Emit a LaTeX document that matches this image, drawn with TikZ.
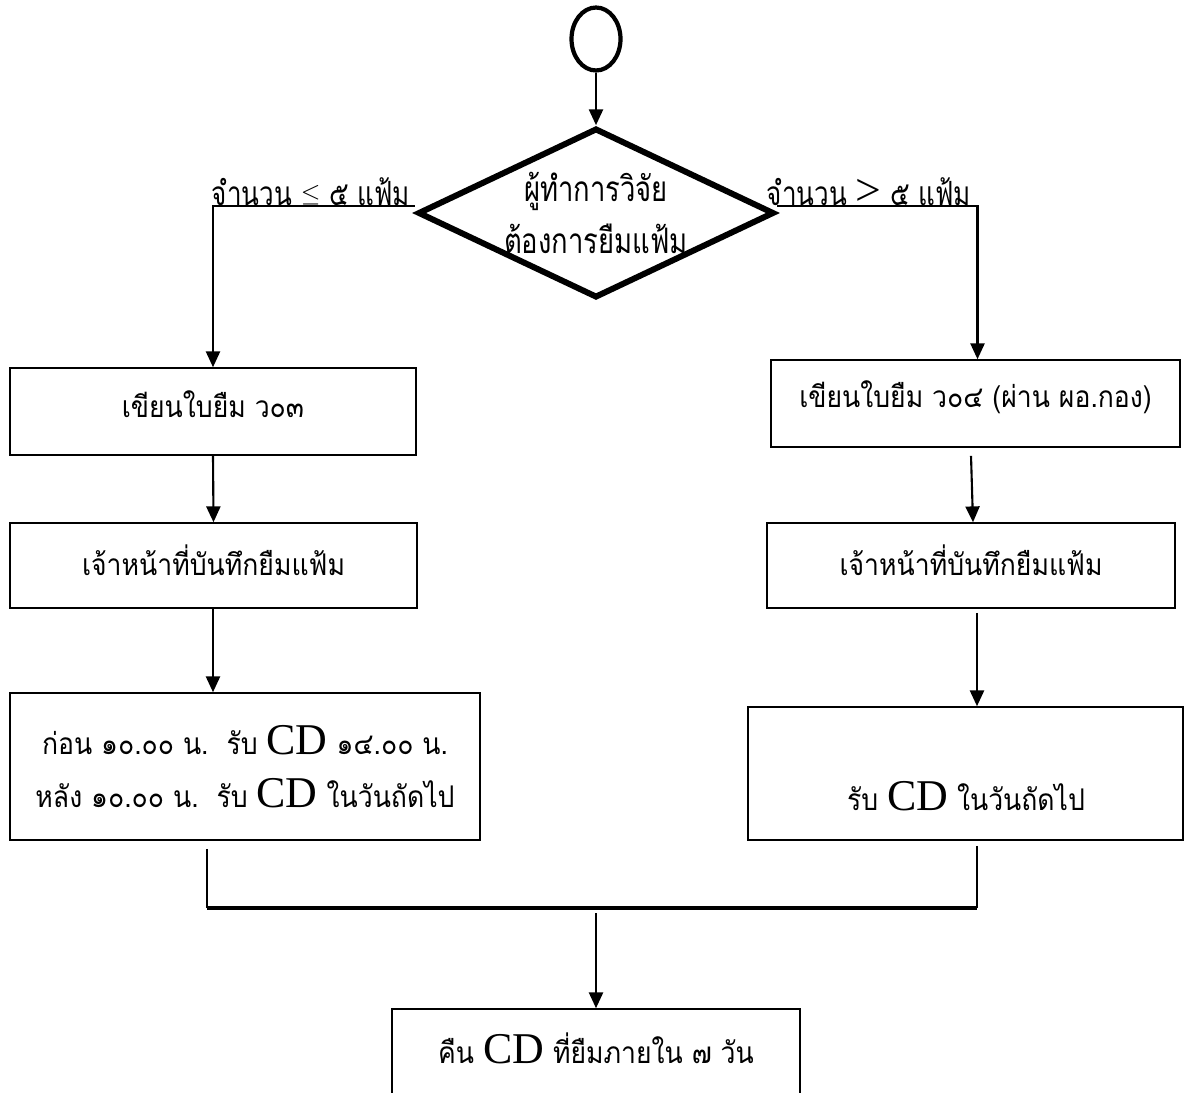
\documentclass[tikz,border=0pt]{standalone}
\usepackage{fontspec}
\usetikzlibrary{shapes.geometric,arrows.meta}
\newfontfamily\thai[Script=Thai,FakeStretch=0.89]{Loma}
\newfontfamily\thaic[Script=Thai,FakeStretch=0.78]{Loma}
\newfontfamily\lserif{Liberation Serif}
\newcommand{\CDt}{{\lserif\fontsize{25}{25}\selectfont CD}}
\tikzset{
  box/.style={draw, line width=0.9pt, rectangle, inner sep=0pt, font=\thai\fontsize{17}{30}\selectfont, align=center},
  conn/.style={line width=1.2pt},
  arr/.style={conn, -{Triangle[length=9pt,width=8pt]}},
  lbl/.style={font=\thaic\fontsize{19}{22}\selectfont, inner sep=0pt},
}
\begin{document}
\begin{tikzpicture}[x=0.02cm,y=-0.02cm]
\useasboundingbox (0,0) rectangle (1185,1092);
\clip (0,0) rectangle (1185,1092);
% start
\node[draw, ellipse, line width=2.4pt, minimum width=0.98cm, minimum height=1.26cm, inner sep=0pt] (start) at (596,39) {};
% decision
\node[draw, diamond, line width=3.4pt, minimum width=7.1cm, minimum height=3.36cm, aspect=2.1, inner sep=0pt,
      font=\thaic\fontsize{20}{30}\selectfont, align=center] (dia) at (596,213) {ผู้ทำการวิจัย\\ต้องการยืมแฟ้ม};
% left column
\node[box, minimum width=8.12cm, minimum height=1.74cm] (b1) at (213,411.5) {};
\node[box, draw=none] (b1t) at (213,404) {เขียนใบยืม ว๐๓};
\node[box, minimum width=8.14cm, minimum height=1.70cm] (b2) at (213.5,565.5) {};
\node[box, draw=none] (b2t) at (213.5,560) {เจ้าหน้าที่บันทึกยืมแฟ้ม};
\node[box, minimum width=9.4cm, minimum height=2.94cm] (b3) at (245,766.5) {};
\node[box, draw=none] (b3t) at (245,767) {ก่อน ๑๐.๐๐ น.\ \ รับ \CDt{} ๑๔.๐๐ น.\\หลัง ๑๐.๐๐ น.\ \ รับ \CDt{} ในวันถัดไป};
% right column
\node[box, minimum width=8.18cm, minimum height=1.74cm] (r1) at (975.5,403.5) {};
\node[box, draw=none] (r1t) at (975.5,397) {เขียนใบยืม ว๐๔ (ผ่าน ผอ.กอง)};
\node[box, minimum width=8.16cm, minimum height=1.70cm] (r2) at (971,565.5) {};
\node[box, draw=none] (r2t) at (971,560) {เจ้าหน้าที่บันทึกยืมแฟ้ม};
\node[box, minimum width=8.7cm, minimum height=2.66cm] (r3) at (965.5,773.5) {};
\node[box, draw=none] (r3t) at (966,796) {รับ \CDt{} ในวันถัดไป};
% final
\node[box, minimum width=8.16cm, minimum height=1.9cm] (fin) at (596,1056.5) {};
\node[box, draw=none] (fint) at (596,1048) {คืน \CDt{} ที่ยืมภายใน ๗ วัน};
% branch labels
\node[lbl] (ll) at (311,192) {จำนวน \raisebox{2.5pt}{\fontsize{14}{20}\selectfont$\leq$} ๕ แฟ้ม};
\node[lbl] (rl) at (869,192) {จำนวน {\lserif\fontsize{26}{20}\selectfont >} ๕ แฟ้ม};
% connectors
\draw[arr] (start.south) -- (dia.north);
\draw[arr] ([yshift=0.14cm]dia.west) -| (b1.north);
\draw[arr] ([yshift=0.14cm]dia.east) -| ([xshift=0.04cm]r1.north);
\draw[arr] (b1.south) -- (b2.north);
\draw[arr] (b2.south -| b1.south) -- (b1.south |- b3.north);
\draw[arr] ([yshift=-0.16cm]r1.south -| r2.north) -- ([xshift=0.04cm]r2.north);
\draw[arr] ([yshift=-0.08cm,xshift=0.12cm]r2.south) -- ([xshift=0.12cm]r2.south |- r3.north);
\coordinate (ml) at (207,908);
\coordinate (mr) at (977,908);
\draw[conn] ([yshift=-0.16cm]b3.south -| ml) -- (ml);
\draw[conn] ([yshift=-0.1cm]r3.south -| mr) -- (mr);
\draw[line width=1.8pt] (ml) -- (mr);
\draw[arr] ([yshift=-0.1cm]ml -| fin.north) -- (fin.north);
\end{tikzpicture}
\end{document}
